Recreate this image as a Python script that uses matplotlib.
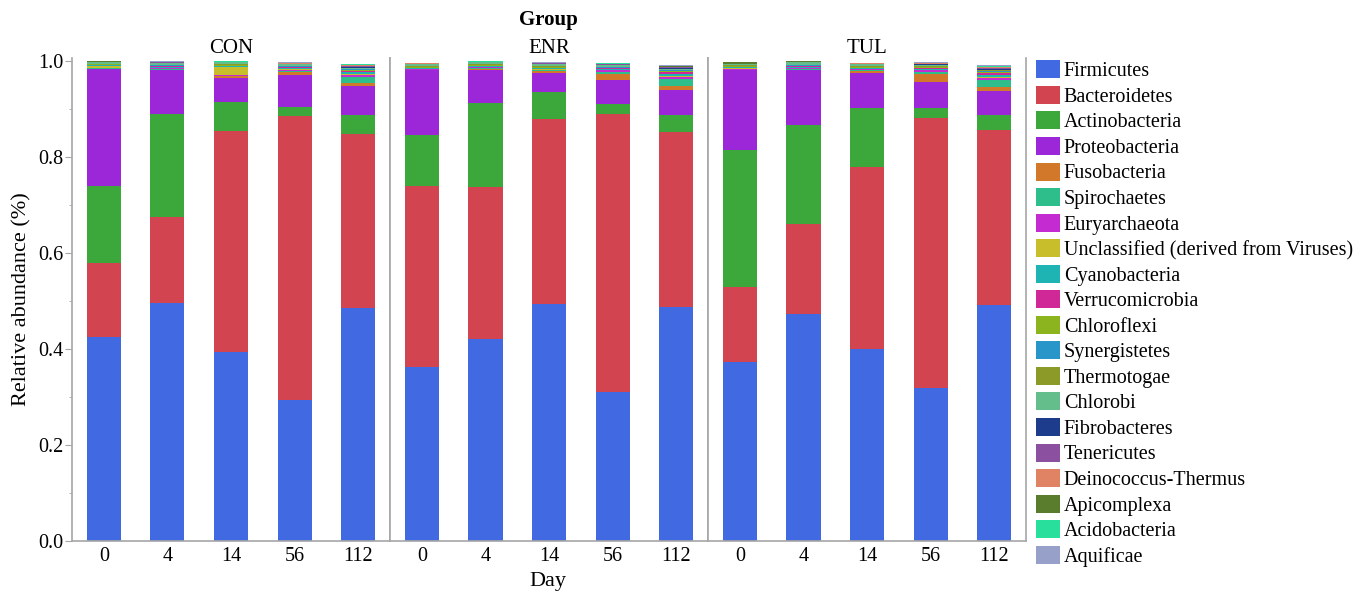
import matplotlib
matplotlib.use("Agg")
import matplotlib.pyplot as plt
import numpy as np
from matplotlib.patches import Patch
from matplotlib.ticker import MultipleLocator

plt.rcParams['font.family'] = ['Liberation Serif', 'DejaVu Serif']

groups = ["CON", "ENR", "TUL"]
days = ["0", "4", "14", "56", "112"]

# relative abundance per sample, order: CON 0..112, ENR 0..112, TUL 0..112
phyla = ["Firmicutes", "Bacteroidetes", "Actinobacteria", "Proteobacteria", "Fusobacteria",
         "Spirochaetes", "Euryarchaeota", "Unclassified (derived from Viruses)", "Cyanobacteria",
         "Verrucomicrobia", "Chloroflexi", "Synergistetes", "Thermotogae", "Chlorobi",
         "Fibrobacteres", "Tenericutes", "Deinococcus-Thermus", "Apicomplexa", "Acidobacteria",
         "Aquificae"]

firmicutes = [0.425, 0.495, 0.393, 0.293, 0.485, 0.363, 0.420, 0.493, 0.310, 0.487, 0.373, 0.473, 0.400, 0.318, 0.492]
bacteroidetes = [0.155, 0.180, 0.462, 0.593, 0.363, 0.377, 0.317, 0.387, 0.580, 0.365, 0.157, 0.187, 0.378, 0.564, 0.365]
actinobacteria = [0.160, 0.215, 0.060, 0.019, 0.039, 0.105, 0.175, 0.055, 0.020, 0.036, 0.285, 0.206, 0.124, 0.019, 0.031]
proteobacteria = [0.243, 0.090, 0.050, 0.065, 0.061, 0.135, 0.070, 0.040, 0.050, 0.052, 0.165, 0.114, 0.073, 0.056, 0.050]
fusobacteria = [0.001, 0.002, 0.003, 0.006, 0.006, 0.001, 0.002, 0.003, 0.013, 0.007, 0.001, 0.002, 0.004, 0.016, 0.007]
spirochaetes = [0.001, 0.001, 0.001, 0.002, 0.012, 0.001, 0.001, 0.002, 0.003, 0.015, 0.001, 0.001, 0.002, 0.003, 0.015]
euryarchaeota = [0.001, 0.002, 0.001, 0.004, 0.005, 0.001, 0.002, 0.002, 0.004, 0.005, 0.001, 0.002, 0.002, 0.004, 0.005]
unclassified = [0.004, 0.001, 0.018, 0.001, 0.002, 0.001, 0.001, 0.001, 0.001, 0.002, 0.003, 0.001, 0.001, 0.001, 0.002]
cyanobacteria = [0.001, 0.001, 0.001, 0.002, 0.003, 0.001, 0.001, 0.002, 0.002, 0.004, 0.001, 0.001, 0.001, 0.002, 0.004]
verrucomicrobia = [0.001, 0.002, 0.001, 0.002, 0.003, 0.001, 0.001, 0.001, 0.002, 0.003, 0.001, 0.002, 0.001, 0.003, 0.004]
chloroflexi = [0.001, 0.001, 0.001, 0.001, 0.002, 0.001, 0.001, 0.001, 0.001, 0.002, 0.001, 0.001, 0.001, 0.001, 0.002]
synergistetes = [0.0005, 0.001, 0.001, 0.001, 0.002, 0.001, 0.001, 0.001, 0.001, 0.002, 0.001, 0.001, 0.001, 0.001, 0.002]
thermotogae = [0.001, 0.001, 0.001, 0.001, 0.001, 0.001, 0.001, 0.001, 0.001, 0.001, 0.002, 0.001, 0.001, 0.001, 0.001]
chlorobi = [0.003, 0.004, 0.004, 0.003, 0.002, 0.004, 0.004, 0.005, 0.003, 0.002, 0.001, 0.005, 0.004, 0.003, 0.002]
fibrobacteres = [0.0002, 0.0002, 0.0002, 0.0005, 0.0015, 0.0002, 0.0002, 0.0002, 0.001, 0.002, 0.0002, 0.0002, 0.0003, 0.0012, 0.002]
tenericutes = [0.0005, 0.001, 0.0005, 0.001, 0.002, 0.001, 0.0005, 0.001, 0.001, 0.002, 0.0005, 0.001, 0.001, 0.001, 0.002]
deinococcus = [0.0005, 0.0005, 0.0005, 0.0005, 0.001, 0.0005, 0.0005, 0.0005, 0.001, 0.001, 0.0005, 0.0005, 0.0005, 0.001, 0.001]
apicomplexa = [0.0005, 0.0005, 0.0005, 0.0005, 0.001, 0.0005, 0.0005, 0.0005, 0.0005, 0.001, 0.003, 0.0005, 0.0005, 0.0005, 0.001]
acidobacteria = [0.0003, 0.0003, 0.0003, 0.0005, 0.001, 0.0003, 0.0003, 0.0003, 0.0005, 0.001, 0.0003, 0.0003, 0.0003, 0.0005, 0.001]
aquificae = [0.0005, 0.001, 0.001, 0.001, 0.0015, 0.001, 0.001, 0.001, 0.001, 0.0015, 0.0005, 0.001, 0.001, 0.001, 0.0015]

series = [firmicutes, bacteroidetes, actinobacteria, proteobacteria, fusobacteria, spirochaetes,
          euryarchaeota, unclassified, cyanobacteria, verrucomicrobia, chloroflexi, synergistetes,
          thermotogae, chlorobi, fibrobacteres, tenericutes, deinococcus, apicomplexa,
          acidobacteria, aquificae]

colors = ["#4169E1", "#D2444F", "#3CA83C", "#9B27D8", "#D2782A", "#2EBE8C", "#C42BD0",
          "#C8BE2C", "#1EB4B4", "#D02896", "#8CB41E", "#2896C8", "#8C9A28", "#64BE8C",
          "#1E3C8C", "#8C50A0", "#E08264", "#5A7D2D", "#28E09B", "#96A0C8"]

grey = "#a6a6a6"
fs = 14.5
fig, axes = plt.subplots(1, 3, figsize=(13.7, 5.92), dpi=100, sharey=True)
fig.subplots_adjust(left=0.0526, right=0.749, bottom=0.0861, top=0.902, wspace=0)

data = np.array(series)
x = np.arange(len(days))
for g, ax in enumerate(axes):
    vals = data[:, g * 5:(g + 1) * 5]
    bottom = np.zeros(len(days))
    for i in range(len(phyla)):
        ax.bar(x, vals[i], bottom=bottom, width=0.535, color=colors[i], linewidth=0)
        bottom += vals[i]
    ax.set_xlim(-0.5, 4.5)
    ax.set_ylim(0, 1.006)
    ax.set_xticks(x)
    ax.set_xticklabels(days, fontsize=fs)
    ax.tick_params(axis="x", length=0, pad=4)
    ax.spines["top"].set_visible(False)
    for s in ["left", "right", "bottom"]:
        ax.spines[s].set_color(grey)
        ax.spines[s].set_linewidth(1.2)
    ax.set_title(groups[g], fontsize=15, pad=1)
    if g > 0:
        ax.tick_params(axis="y", which="both", left=False)

axes[0].set_yticks([0, 0.2, 0.4, 0.6, 0.8, 1.0])
axes[0].set_yticklabels(["0.0", "0.2", "0.4", "0.6", "0.8", "1.0"], fontsize=fs)
axes[0].yaxis.set_minor_locator(MultipleLocator(0.1))
axes[0].tick_params(axis="y", which="major", length=5, color=grey, pad=1)
axes[0].tick_params(axis="y", which="minor", length=2.5, color=grey)
axes[0].set_ylabel("Relative abundance (%)", fontsize=16, labelpad=5)

fig.text(0.4, 0.966, "Group", ha="center", va="center", fontsize=15, fontweight="bold")
fig.text(0.4, 0.018, "Day", ha="center", va="center", fontsize=16)

handles = [Patch(facecolor=c, edgecolor="none") for c in colors]
fig.legend(handles, phyla, loc="upper left", bbox_to_anchor=(0.7562, 0.898), frameon=False,
           fontsize=fs, handlelength=1.18, handleheight=1.0, labelspacing=0.23,
           handletextpad=0.2, borderaxespad=0, borderpad=0)

fig.savefig("out.png", dpi=100)
